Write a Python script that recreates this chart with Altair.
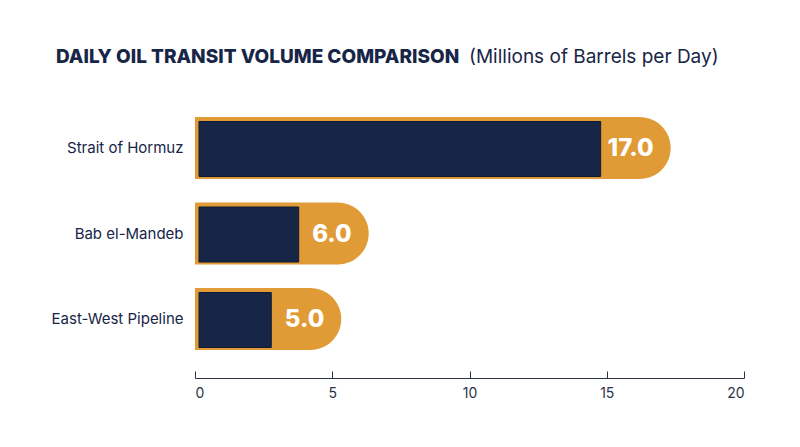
import altair as alt
import pandas as pd

routes = ["Strait of Hormuz", "Bab el-Mandeb", "East-West Pipeline"]
volumes = [17.0, 6.0, 5.0]
x_ticks = [0, 5, 10, 15, 20]
title_bold = "DAILY OIL TRANSIT VOLUME COMPARISON"
title_light = "(Millions of Barrels per Day)"

NAVY = "#172547"
ORANGE = "#E09B36"
AXIS = "#2b3447"
FONT = "Inter"
W, H = 549, 289

df = pd.DataFrame({"route": routes, "volume": volumes})

xscale = alt.Scale(domain=[0, 20], nice=False, zero=True)
yscale = alt.Scale(paddingInner=0.28, paddingOuter=0.33)

y_enc = alt.Y(
    "route:N", sort=routes, scale=yscale,
    axis=alt.Axis(title=None, domain=False, ticks=False, labelFontSize=15,
                  labelColor=NAVY, labelFont=FONT, labelPadding=12),
)

base = alt.Chart(df).transform_calculate(zero="0")

orange = base.mark_bar(
    color=ORANGE, size=62, cornerRadiusTopRight=31, cornerRadiusBottomRight=31,
    x2Offset=9,
).encode(
    x=alt.X("zero:Q", scale=xscale,
            axis=alt.Axis(values=x_ticks, title=None, ticks=False, grid=False,
                          domainColor=AXIS, domainWidth=1, labelFontSize=14,
                          labelColor=AXIS, labelPadding=8, labelFont=FONT)),
    x2="volume:Q",
    y=y_enc,
)

navy = base.mark_bar(
    color=NAVY, size=55, xOffset=4, x2Offset=-61, yOffset=1,
    stroke="#0e1a35", strokeWidth=1,
).encode(
    x=alt.X("zero:Q", scale=xscale,
            axis=alt.Axis(orient="top", offset=-H, values=x_ticks, labels=False,
                          domain=False, ticks=True, tickSize=7, tickColor=AXIS,
                          tickWidth=1, grid=False, title=None)),
    x2="volume:Q",
    y=y_enc,
)

labels = base.mark_text(
    align="right", baseline="middle", dx=-8, dy=1, font=FONT, fontSize=24,
    fontWeight=800, color="white",
).encode(
    x=alt.X("volume:Q", scale=xscale, axis=None),
    y=y_enc,
    text=alt.Text("volume:Q", format=".1f"),
)

title_df = pd.DataFrame({"t": [title_bold]})
sub_df = pd.DataFrame({"t": [title_light]})

head = alt.Chart(title_df).mark_text(
    align="left", baseline="alphabetic", font=FONT, fontSize=19,
    fontWeight=800, color=NAVY,
).encode(x=alt.value(-139), y=alt.value(-26), text="t:N")

sub = alt.Chart(sub_df).mark_text(
    align="left", baseline="alphabetic", font=FONT, fontSize=19, color=NAVY,
).encode(x=alt.value(274), y=alt.value(-26), text="t:N")

chart = alt.layer(orange, navy, labels, head, sub).resolve_axis(x="independent").properties(
    width=W, height=H,
    padding={"left": 187, "top": 81, "right": 48, "bottom": 61},
    autosize=alt.AutoSizeParams(type="none"),
    background="white",
).configure_view(stroke=None)

chart.save("out.html", embed_options={"renderer": "svg", "actions": False})
